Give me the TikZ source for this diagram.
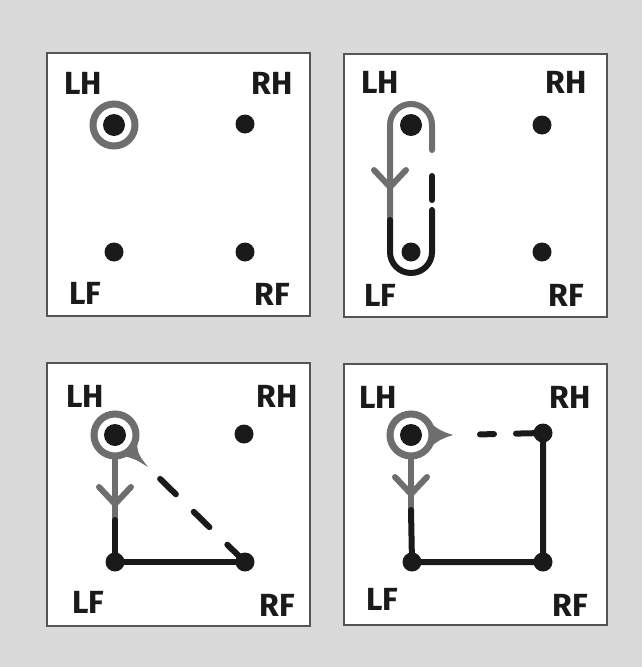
\documentclass[tikz,border=0pt]{standalone}
\usepackage{fontspec}
\setsansfont{Fira Sans}
\usepackage{xcolor}
\usetikzlibrary{arrows.meta,decorations.markings}
\definecolor{bggray}{HTML}{DADADA}
\definecolor{ringgray}{HTML}{6E6E6E}
\definecolor{framegray}{HTML}{555555}
\definecolor{inkblack}{HTML}{1A1A1A}

\begin{document}
\begin{tikzpicture}[x=1pt,y=-1pt,
    foot/.style={circle,fill=inkblack,inner sep=0pt,minimum size=19pt},
    bigfoot/.style={circle,fill=inkblack,inner sep=0pt,minimum size=22pt},
    lab/.style={font=\sffamily\bfseries\fontsize{32}{32}\selectfont,inner sep=0pt,text=inkblack},
    panel/.style={draw=framegray,fill=white,line width=1.5pt},
    ring/.style={draw=ringgray,line width=7pt},
    swing/.style={draw=ringgray,line width=6pt,line cap=round},
    route/.style={draw=inkblack,line width=6pt,line cap=round,line join=round},
    midarrow/.style={postaction={decorate,decoration={markings,
        mark=at position #1 with {\arrow[ringgray]{Straight Barb[round,length=17pt,width=32pt,line width=6pt]}}}}}]
    \fill[bggray] (0,0) rectangle (642,667);

    \begin{scope}[shift={(47,53)}]
    \draw[panel] (0,0) rectangle (263,263);
    \node[lab] (lhlab1) at (36,30) {LH};
    \node[lab] (rhlab1) at (225,30) {RH};
    \node[lab] (lflab1) at (38,240) {LF};
    \node[lab] (rflab1) at (225,241) {RF};
    \node[bigfoot] (lh1) at (67,72) {};
    \node[foot] (rh1) at (198,71) {};
    \node[foot] (lf1) at (67,199) {};
    \node[foot] (rf1) at (198,199) {};
    \draw[ring] (lh1.center) circle (21);
    \end{scope}

    \begin{scope}[shift={(344,54)}]
    \draw[panel] (0,0) rectangle (263,263);
    \node[lab] (lhlab2) at (36,28) {LH};
    \node[lab] (rhlab2) at (222,28) {RH};
    \node[lab] (lflab2) at (36,241) {LF};
    \node[lab] (rflab2) at (222,241) {RF};
    \node[bigfoot] (lh2) at (67,71) {};
    \node[foot] (rh2) at (198,71) {};
    \node[foot] (lf2) at (67,198) {};
    \node[foot] (rf2) at (198,198) {};
    \draw[swing,midarrow=156pt] ([shift={(21,25)}]lh2.center) -- ([shift={(21,0)}]lh2.center)
        arc[start angle=0,end angle=-180,radius=21] -- ([shift={(-21,95)}]lh2.center);
    \draw[route] ([shift={(-21,95)}]lh2.center) -- ([shift={(-21,0)}]lf2.center)
        arc[start angle=180,end angle=0,radius=21] -- ([shift={(21,-42)}]lf2.center);
    \draw[route,dash pattern=on 24pt off 39pt,dash phase=37pt] ([shift={(21,25)}]lh2.center) -- ([shift={(21,-42)}]lf2.center);
    \end{scope}

    \begin{scope}[shift={(47,363)}]
    \draw[panel] (0,0) rectangle (263,263);
    \node[lab] (lhlab3) at (38,33) {LH};
    \node[lab] (rhlab3) at (230,33) {RH};
    \node[lab] (lflab3) at (41,239) {LF};
    \node[lab] (rflab3) at (230,242) {RF};
    \node[bigfoot] (lh3) at (68,72) {};
    \node[foot] (rh3) at (197,71) {};
    \node[foot] (lf3) at (68,199) {};
    \node[foot] (rf3) at (198,199) {};
    \draw[ring] (lh3.center) circle (21);
    \fill[ringgray] ([shift={(-5:22)}]lh3.center) .. controls ([shift={(22,18)}]lh3.center) .. ([shift={(33,32)}]lh3.center)
        .. controls ([shift={(20,24)}]lh3.center) .. ([shift={(70:22)}]lh3.center) -- cycle;
    \draw[swing,midarrow=51pt] ([shift={(0,21)}]lh3.center) -- ([shift={(0,85)}]lh3.center);
    \draw[route] ([shift={(0,85)}]lh3.center) -- (lf3.center) -- (rf3.center);
    \draw[route,dash pattern=on 22pt off 25pt,dash phase=30pt] ([shift={(33,32)}]lh3.center) -- (rf3.center);
    \end{scope}

    \begin{scope}[shift={(344,364)}]
    \draw[panel] (0,0) rectangle (263,261);
    \node[lab] (lhlab4) at (34,33) {LH};
    \node[lab] (rhlab4) at (226,33) {RH};
    \node[lab] (lflab4) at (38,235) {LF};
    \node[lab] (rflab4) at (226,241) {RF};
    \node[bigfoot] (lh4) at (67,71) {};
    \node[foot] (rh4) at (199,69) {};
    \node[foot] (lf4) at (68,198) {};
    \node[foot] (rf4) at (199,198) {};
    \draw[ring] (lh4.center) circle (21);
    \fill[ringgray] ([shift={(-35:22)}]lh4.center) .. controls ([shift={(30,-4)}]lh4.center) .. ([shift={(42,0)}]lh4.center)
        .. controls ([shift={(30,4)}]lh4.center) .. ([shift={(35:22)}]lh4.center) -- cycle;
    \draw[swing,midarrow=41pt] ([shift={(0,21)}]lh4.center) -- ([shift={(0,75)}]lh4.center);
    \draw[route] (rh4.center) -- (rf4.center) -- (lf4.center) -- ([shift={(0,75)}]lh4.center);
    \draw[route,dash pattern=on 14pt off 22pt on 40pt off 27pt,dash phase=76pt] ([shift={(42,0)}]lh4.center) -- (rh4.center);
    \end{scope}
\end{tikzpicture}
\end{document}
